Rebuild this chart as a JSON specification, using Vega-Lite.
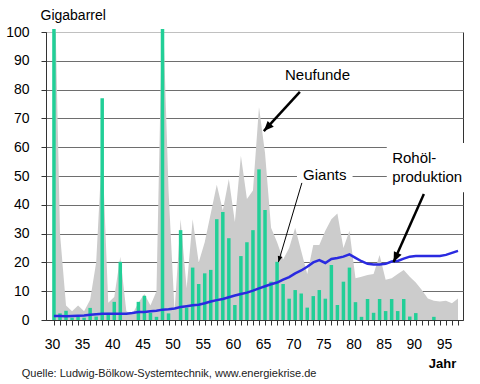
{
  "$schema": "https://vega.github.io/schema/vega-lite/v6.json",
  "width": 417,
  "height": 288,
  "autosize": "none",
  "padding": {"left": 46, "top": 32, "right": 17, "bottom": 64},
  "background": "white",
  "config": {
    "view": {"stroke": "#333333", "strokeWidth": 1},
    "font": "Liberation Sans",
    "text": {"font": "Liberation Sans"}
  },
  "datasets": {
    "main": [
      {"year": 1930, "neufunde": 130, "giants": 101, "produktion": 1.4},
      {"year": 1931, "neufunde": 30, "giants": 2.3, "produktion": 1.4},
      {"year": 1932, "neufunde": 5, "giants": 3.2, "produktion": 1.3},
      {"year": 1933, "neufunde": 3, "giants": 0.8, "produktion": 1.4},
      {"year": 1934, "neufunde": 5, "giants": 1.1, "produktion": 1.5},
      {"year": 1935, "neufunde": 3, "giants": 0.8, "produktion": 1.6},
      {"year": 1936, "neufunde": 7, "giants": 4.2, "produktion": 1.8},
      {"year": 1937, "neufunde": 20, "giants": 1.2, "produktion": 2.0},
      {"year": 1938, "neufunde": 60, "giants": 77, "produktion": 2.2},
      {"year": 1939, "neufunde": 6, "giants": 2.5, "produktion": 2.2},
      {"year": 1940, "neufunde": 8, "giants": 6.3, "produktion": 2.2},
      {"year": 1941, "neufunde": 22, "giants": 20.2, "produktion": 2.2},
      {"year": 1942, "neufunde": 3, "giants": 0, "produktion": 2.2},
      {"year": 1943, "neufunde": 2, "giants": 0, "produktion": 2.4},
      {"year": 1944, "neufunde": 6, "giants": 6.3, "produktion": 2.8},
      {"year": 1945, "neufunde": 9, "giants": 8.4, "produktion": 2.8},
      {"year": 1946, "neufunde": 5, "giants": 2.5, "produktion": 3.0},
      {"year": 1947, "neufunde": 10, "giants": 1.1, "produktion": 3.2},
      {"year": 1948, "neufunde": 112, "giants": 101, "produktion": 3.6},
      {"year": 1949, "neufunde": 45, "giants": 2.3, "produktion": 3.7},
      {"year": 1950, "neufunde": 3, "giants": 0, "produktion": 4.0},
      {"year": 1951, "neufunde": 35, "giants": 31.2, "produktion": 4.5},
      {"year": 1952, "neufunde": 11, "giants": 4.3, "produktion": 4.8},
      {"year": 1953, "neufunde": 35, "giants": 18.2, "produktion": 5.1},
      {"year": 1954, "neufunde": 20, "giants": 12.5, "produktion": 5.3},
      {"year": 1955, "neufunde": 27, "giants": 16.2, "produktion": 5.8},
      {"year": 1956, "neufunde": 37, "giants": 17.4, "produktion": 6.4},
      {"year": 1957, "neufunde": 47, "giants": 35, "produktion": 6.9},
      {"year": 1958, "neufunde": 38, "giants": 37.5, "produktion": 7.3},
      {"year": 1959, "neufunde": 49, "giants": 28.4, "produktion": 7.9},
      {"year": 1960, "neufunde": 34, "giants": 5.2, "produktion": 8.5},
      {"year": 1961, "neufunde": 57, "giants": 22.2, "produktion": 9.0},
      {"year": 1962, "neufunde": 42, "giants": 27, "produktion": 9.5},
      {"year": 1963, "neufunde": 45, "giants": 31.2, "produktion": 10.2},
      {"year": 1964, "neufunde": 74, "giants": 52.3, "produktion": 11.0},
      {"year": 1965, "neufunde": 58, "giants": 38.2, "produktion": 11.7},
      {"year": 1966, "neufunde": 32, "giants": 13.3, "produktion": 12.4},
      {"year": 1967, "neufunde": 27, "giants": 20.2, "produktion": 13.0},
      {"year": 1968, "neufunde": 21, "giants": 12.5, "produktion": 14.0},
      {"year": 1969, "neufunde": 25, "giants": 7.4, "produktion": 14.9},
      {"year": 1970, "neufunde": 32, "giants": 10.4, "produktion": 16.2},
      {"year": 1971, "neufunde": 24, "giants": 9.2, "produktion": 17.2},
      {"year": 1972, "neufunde": 16, "giants": 4.3, "produktion": 18.5},
      {"year": 1973, "neufunde": 26, "giants": 8.3, "produktion": 20.0},
      {"year": 1974, "neufunde": 26, "giants": 10.4, "produktion": 20.8},
      {"year": 1975, "neufunde": 31, "giants": 7.4, "produktion": 19.8},
      {"year": 1976, "neufunde": 35, "giants": 19.1, "produktion": 21.2},
      {"year": 1977, "neufunde": 37, "giants": 5.2, "produktion": 21.5},
      {"year": 1978, "neufunde": 25, "giants": 13.3, "produktion": 22.0},
      {"year": 1979, "neufunde": 31, "giants": 18.2, "produktion": 22.8},
      {"year": 1980, "neufunde": 14.5, "giants": 6.2, "produktion": 21.6},
      {"year": 1981, "neufunde": 15, "giants": 1.1, "produktion": 20.4},
      {"year": 1982, "neufunde": 15.6, "giants": 7.3, "produktion": 19.5},
      {"year": 1983, "neufunde": 16, "giants": 2.5, "produktion": 19.3},
      {"year": 1984, "neufunde": 22.6, "giants": 7.3, "produktion": 19.3},
      {"year": 1985, "neufunde": 14, "giants": 3.1, "produktion": 19.5},
      {"year": 1986, "neufunde": 14.5, "giants": 7.3, "produktion": 20.3},
      {"year": 1987, "neufunde": 16, "giants": 3.1, "produktion": 20.5},
      {"year": 1988, "neufunde": 17.4, "giants": 7.3, "produktion": 21.3},
      {"year": 1989, "neufunde": 15, "giants": 1.2, "produktion": 22.0},
      {"year": 1990, "neufunde": 13, "giants": 2.4, "produktion": 22.2},
      {"year": 1991, "neufunde": 10.4, "giants": 0, "produktion": 22.2},
      {"year": 1992, "neufunde": 7.5, "giants": 0, "produktion": 22.2},
      {"year": 1993, "neufunde": 6.7, "giants": 1.1, "produktion": 22.2},
      {"year": 1994, "neufunde": 6.4, "giants": 0, "produktion": 22.2},
      {"year": 1995, "neufunde": 6.7, "giants": 0, "produktion": 22.6},
      {"year": 1996, "neufunde": 5.8, "giants": 0, "produktion": 23.3},
      {"year": 1997, "neufunde": 7.5, "giants": 0, "produktion": 24.0}
    ],
    "boxes": [
      {"year": 1970.3, "year2": 1979.52, "value": 46.9, "value2": 54.2},
      {"year": 1985.19, "year2": 1998.13, "value": 44.4, "value2": 61.5}
    ],
    "arrows": [
      {"name": "Neufunde", "year": 1970.78, "value": 79.2, "year2": 1964.8, "value2": 65.6},
      {"name": "Rohöl", "year": 1991.34, "value": 43.75, "year2": 1986.32, "value2": 20.1}
    ],
    "thinarrows": [
      {"name": "Giants", "year": 1971.11, "value": 47.6, "year2": 1967.22, "value2": 20.1}
    ],
    "centerlabels": [
      {"label": "Neufunde", "year": 1973.7, "value": 85.1},
      {"label": "Giants", "year": 1974.91, "value": 50.3}
    ],
    "leftlabels": [
      {"label": "Rohöl-", "year": 1986.08, "value": 56.25},
      {"label": "produktion", "year": 1986.08, "value": 49.5}
    ],
    "source": [
      {"label": "Quelle: Ludwig-Bölkow-Systemtechnik, www.energiekrise.de", "year": 1924.66, "value": -18.6}
    ]
  },
  "encoding": {
    "x": {
      "field": "year", "type": "quantitative",
      "scale": {"domain": [1929.51, 1997], "nice": false, "zero": false},
      "axis": {
        "values": [1930,1931,1932,1933,1934,1935,1936,1937,1938,1939,1940,1941,1942,1943,1944,1945,1946,1947,1948,1949,1950,1951,1952,1953,1954,1955,1956,1957,1958,1959,1960,1961,1962,1963,1964,1965,1966,1967,1968,1969,1970,1971,1972,1973,1974,1975,1976,1977,1978,1979,1980,1981,1982,1983,1984,1985,1986,1987,1988,1989,1990,1991,1992,1993,1994,1995,1996,1997],
        "labelExpr": "datum.value % 5 === 0 ? substring(toString(datum.value), 2, 4) : ''",
        "labelFontSize": 14,
        "labelColor": "#000000",
        "labelBaseline": "alphabetic",
        "labelPadding": 23,
        "labelOffset": -2,
        "labelFlush": false,
        "labelOverlap": false,
        "tickSize": 5,
        "tickColor": "#333333",
        "domainColor": "#333333",
        "grid": false,
        "title": "Jahr",
        "titleX": 396,
        "titleY": 47,
        "titleAlign": "center",
        "titleBaseline": "alphabetic",
        "titleFontSize": 13,
        "titleFontWeight": "bold",
        "titleColor": "#000000"
      }
    },
    "y": {
      "field": "value", "type": "quantitative",
      "scale": {"domain": [0, 100], "nice": false},
      "axis": {
        "values": [0, 10, 20, 30, 40, 50, 60, 70, 80, 90, 100],
        "title": "Gigabarrel",
        "titleAngle": 0,
        "titleX": -6,
        "titleY": -13,
        "titleAlign": "left",
        "titleBaseline": "alphabetic",
        "titleFontSize": 14,
        "titleFontWeight": "normal",
        "titleColor": "#000000",
        "labelFontSize": 14,
        "labelColor": "#000000",
        "labelPadding": 12,
        "tickSize": 5,
        "tickColor": "#333333",
        "domainColor": "#333333",
        "grid": true,
        "gridColor": {"condition": {"test": "datum.value === 100", "value": "#c0c0c0"}, "value": "#6e6e6e"},
        "gridWidth": 1
      }
    }
  },
  "layer": [
    {
      "data": {"name": "main"},
      "mark": {"type": "area", "color": "#cccccc", "clip": true, "interpolate": "linear"},
      "encoding": {"y": {"field": "neufunde", "type": "quantitative"}}
    },
    {
      "data": {"name": "main"},
      "mark": {"type": "bar", "color": "#22cf97", "size": 3.5},
      "encoding": {"y": {"field": "giants", "type": "quantitative"}}
    },
    {
      "data": {"name": "main"},
      "mark": {"type": "line", "color": "#2a2ae0", "strokeWidth": 2.5},
      "encoding": {"y": {"field": "produktion", "type": "quantitative"}}
    },
    {
      "data": {"name": "boxes"},
      "mark": {"type": "rect", "color": "#ffffff"},
      "encoding": {"x2": {"field": "year2"}, "y2": {"field": "value2"}}
    },
    {
      "data": {"name": "arrows"},
      "mark": {"type": "rule", "color": "#000000", "strokeWidth": 2.5},
      "encoding": {"x2": {"field": "year2"}, "y2": {"field": "value2"}}
    },
    {
      "data": {"name": "thinarrows"},
      "mark": {"type": "rule", "color": "#000000", "strokeWidth": 1},
      "encoding": {"x2": {"field": "year2"}, "y2": {"field": "value2"}}
    },
    {
      "data": {"name": "arrows"},
      "transform": [{"filter": "datum.name === 'Neufunde'"}],
      "mark": {"type": "point", "shape": "M0,0L-0.42,1L0.42,1Z", "filled": true, "opacity": 1, "color": "#000000", "size": 400, "angle": 223.5},
      "encoding": {
        "x": {"field": "year2", "type": "quantitative"},
        "y": {"field": "value2", "type": "quantitative"}
      }
    },
    {
      "data": {"name": "arrows"},
      "transform": [{"filter": "datum.name === 'Rohöl'"}],
      "mark": {"type": "point", "shape": "M0,0L-0.42,1L0.42,1Z", "filled": true, "opacity": 1, "color": "#000000", "size": 400, "angle": 204.5},
      "encoding": {
        "x": {"field": "year2", "type": "quantitative"},
        "y": {"field": "value2", "type": "quantitative"}
      }
    },
    {
      "data": {"name": "thinarrows"},
      "mark": {"type": "point", "shape": "M0,0L-0.4,1L0.4,1Z", "filled": true, "opacity": 1, "color": "#000000", "size": 144, "angle": 196.9},
      "encoding": {
        "x": {"field": "year2", "type": "quantitative"},
        "y": {"field": "value2", "type": "quantitative"}
      }
    },
    {
      "data": {"name": "centerlabels"},
      "mark": {"type": "text", "fontSize": 15, "align": "center", "baseline": "middle", "color": "#000000"},
      "encoding": {"text": {"field": "label"}}
    },
    {
      "data": {"name": "leftlabels"},
      "mark": {"type": "text", "fontSize": 15, "align": "left", "baseline": "middle", "color": "#000000"},
      "encoding": {"text": {"field": "label"}}
    },
    {
      "data": {"name": "source"},
      "mark": {"type": "text", "fontSize": 11, "align": "left", "baseline": "middle", "color": "#222222"},
      "encoding": {"text": {"field": "label"}}
    }
  ]
}
